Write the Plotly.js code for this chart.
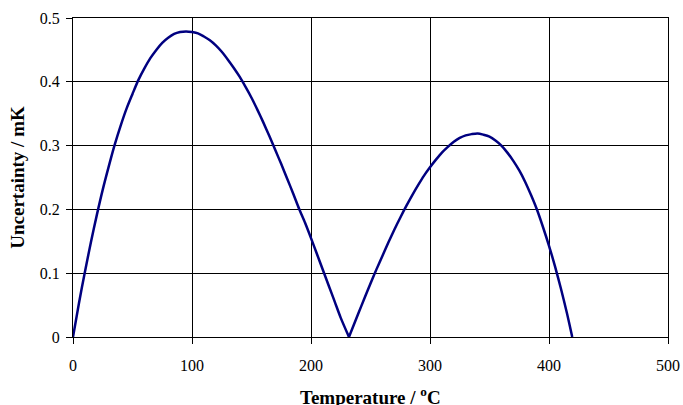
<!DOCTYPE html>
<html>
<head>
<meta charset="utf-8">
<script src="https://cdn.plot.ly/plotly-3.0.1.min.js"></script>
<style>
  html, body { margin: 0; padding: 0; background: #fff; }
  #chart { width: 683px; height: 405px; }
</style>
</head>
<body>
<div id="chart"></div>
<script>
// Uncertainty across the 0 °C – Sn – Zn interpolation range.
// First arc: 0 °C up to the tin point (231.928 °C).
const tempLow = [0, 5, 10, 15, 20, 25, 30, 35, 40, 45, 50, 55, 60, 65, 70, 75, 80, 85,
                 90, 95, 100, 105, 110, 115, 120, 125, 130, 135, 140, 145, 150, 155,
                 160, 165, 170, 175, 180, 185, 190, 195, 200, 205, 210, 215, 220, 225,
                 231.928];
const uncLow  = [0, 0.053, 0.102, 0.148, 0.191, 0.231, 0.267, 0.301, 0.331, 0.358,
                 0.381, 0.403, 0.421, 0.437, 0.45, 0.461, 0.469, 0.475, 0.478, 0.479,
                 0.478, 0.476, 0.471, 0.465, 0.457, 0.447, 0.435, 0.422, 0.408, 0.392,
                 0.375, 0.356, 0.336, 0.315, 0.293, 0.271, 0.248, 0.225, 0.201, 0.179,
                 0.155, 0.13, 0.105, 0.08, 0.055, 0.03, 0];

// Second arc: tin point up to the zinc point (419.527 °C).
const tempHigh = [231.928, 240, 245, 250, 255, 260, 265, 270, 275, 280, 285, 290, 295,
                  300, 305, 310, 315, 320, 325, 330, 335, 340, 345, 350, 355, 360, 365,
                  370, 375, 380, 385, 390, 395, 400, 405, 410, 415, 419.527];
const uncHigh  = [0, 0.038, 0.061, 0.084, 0.106, 0.127, 0.148, 0.168, 0.187, 0.205,
                  0.222, 0.238, 0.253, 0.266, 0.278, 0.289, 0.298, 0.306, 0.312, 0.316,
                  0.318, 0.319, 0.317, 0.314, 0.308, 0.3, 0.289, 0.276, 0.261, 0.243,
                  0.222, 0.199, 0.172, 0.143, 0.111, 0.076, 0.038, 0];

const xTickVals = [0, 100, 200, 300, 400, 500];
const yTickVals = [0, 0.1, 0.2, 0.3, 0.4, 0.5];

const xTitle = 'Temperature / <sup>o</sup>C';
const yTitle = 'Uncertainty / mK';

const serif = 'Liberation Serif, Times New Roman, serif';
const titleFont = { family: serif, size: 19, color: '#000', weight: 700 };
const curveLine = { color: '#000080', width: 2.5, shape: 'spline', smoothing: 0.8 };

const traces = [
  { x: tempLow,  y: uncLow,  mode: 'lines', line: curveLine, hoverinfo: 'skip' },
  { x: tempHigh, y: uncHigh, mode: 'lines', line: curveLine, hoverinfo: 'skip' }
];

const axisCommon = {
  showgrid: true, gridcolor: '#000', gridwidth: 1,
  showline: true, linecolor: '#000', linewidth: 1, mirror: true,
  ticks: 'outside', ticklen: 6, tickcolor: '#000', tickwidth: 1,
  zeroline: false, fixedrange: true,
  tickfont: { family: serif, size: 16, color: '#000' }
};

const layout = {
  width: 683, height: 405,
  margin: { l: 73, r: 15, t: 18, b: 68 },
  paper_bgcolor: '#fff', plot_bgcolor: '#fff',
  showlegend: false,
  xaxis: Object.assign({}, axisCommon, {
    range: [0, 500], tickvals: xTickVals, ticklabelstandoff: 8
  }),
  yaxis: Object.assign({}, axisCommon, {
    range: [0, 0.5], tickvals: yTickVals, ticklabelstandoff: 3,
    title: { text: yTitle, standoff: 10, font: titleFont }
  }),
  // x-axis title, set low near the bottom edge of the page
  annotations: [{
    text: xTitle, font: titleFont, showarrow: false,
    xref: 'paper', yref: 'paper', x: 0.5, y: -0.14,
    xanchor: 'center', yanchor: 'top'
  }]
};

Plotly.newPlot('chart', traces, layout, { staticPlot: true, displayModeBar: false });
</script>
</body>
</html>
